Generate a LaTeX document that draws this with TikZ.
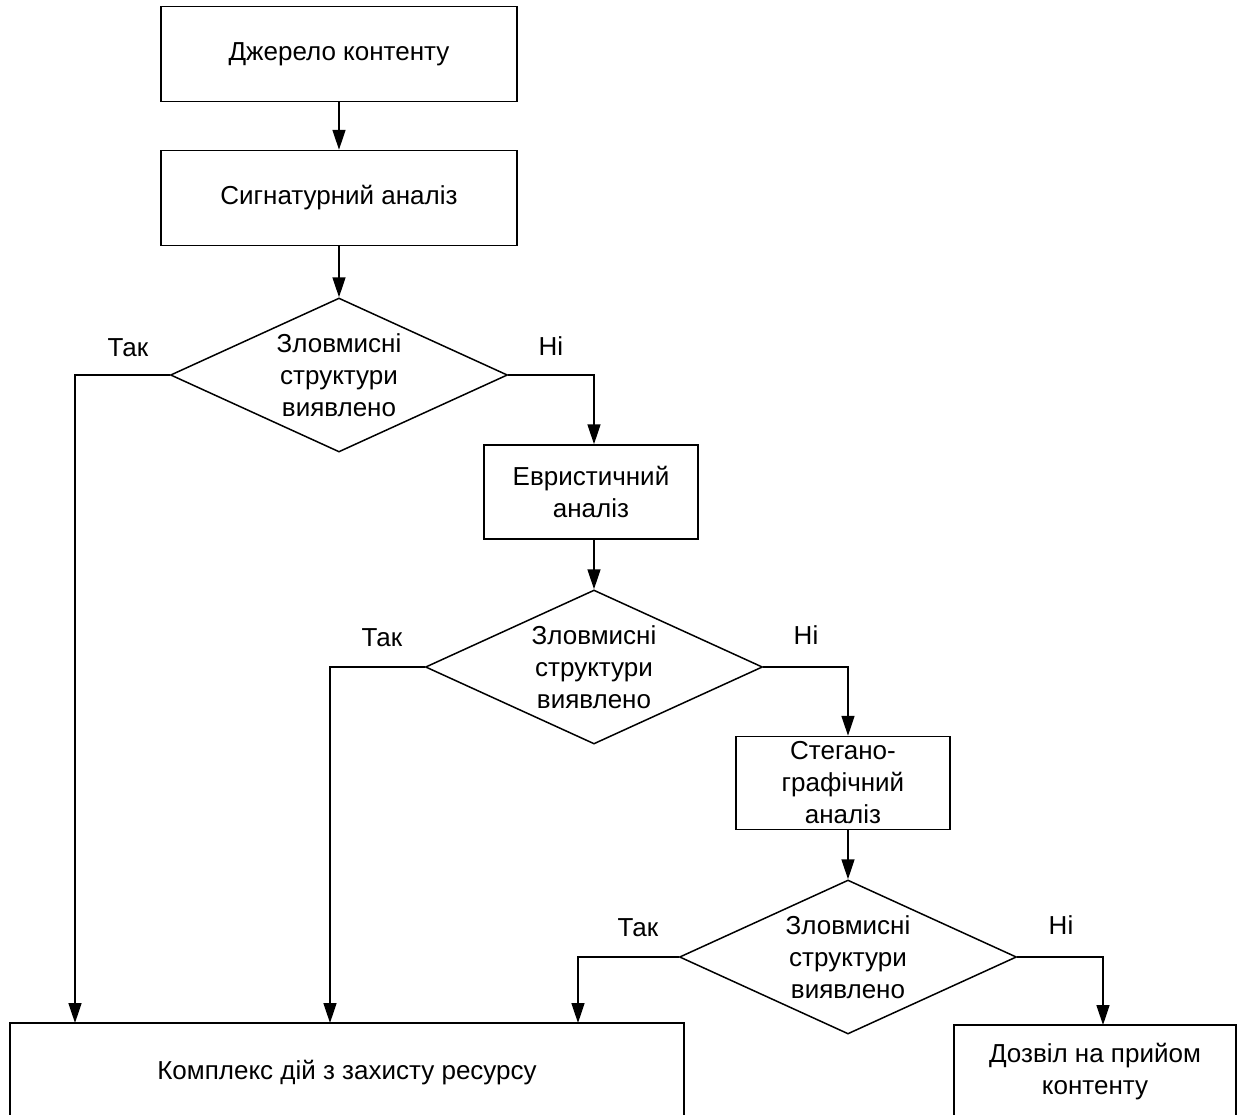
\documentclass[tikz,border=0pt]{standalone}
\usepackage{fontspec}
\setmainfont{Liberation Sans}
\usetikzlibrary{arrows.meta, shapes.geometric}

\tikzset{
  block/.style={draw, line width=0.75pt, align=center, inner sep=0pt},
  decision/.style={draw, diamond, line width=0.75pt, align=center, inner sep=0pt,
    aspect=2.19, minimum width=168.5pt, minimum height=77pt},
  flow/.style={line width=0.75pt, -{Triangle[length=10pt, width=6.5pt]}},
  lbl/.style={inner sep=0pt}
}

\begin{document}
\begin{tikzpicture}[x=0.5pt, y=-0.5pt,
    every node/.style={font=\fontsize{13pt}{16pt}\selectfont}]
  \useasboundingbox (0,0) rectangle (1244,1115);
  \clip (0,0) rectangle (1244,1115);

  % blocks and decisions
  \node[block, minimum width=178pt, minimum height=47.5pt] (src) at (339,54) {Джерело контенту};
  \node[block, minimum width=178pt, minimum height=47.5pt] (sig) at (339,198) {Сигнатурний аналіз};
  \node[decision] (d1) at (339,375) {Зловмисні\\структури\\виявлено};
  \node[block, minimum width=107pt, minimum height=47pt] (heu) at (591,492) {Евристичний\\аналіз};
  \node[decision] (d2) at (594,667) {Зловмисні\\структури\\виявлено};
  \node[block, minimum width=107pt, minimum height=46.5pt] (steg) at (843,783) {Стегано-\\графічний\\аналіз};
  \node[decision] (d3) at (848,957) {Зловмисні\\структури\\виявлено};
  \node[block, minimum width=337pt, minimum height=50pt] (prot) at (347,1073) {Комплекс дій з захисту ресурсу};
  \node[block, minimum width=141pt, minimum height=47pt] (allow) at (1095,1072) {Дозвіл на прийом\\контенту};

  % entry points on the lower boxes
  \coordinate (p1) at (75,1023);
  \coordinate (p2) at (330,1023);
  \coordinate (p3) at (578,1023);
  \coordinate (p4) at (1103,1025);

  % connectors
  \draw[flow] (src.south) -- (sig.north);
  \draw[flow] (sig.south) -- (d1.north);
  \draw[flow] (d1.west) -| (p1);
  \draw[flow] (d1.east) -| ([xshift=1.5pt]heu.north);
  \draw[flow] ([xshift=1.5pt]heu.south) -- (d2.north);
  \draw[flow] (d2.west) -| (p2);
  \draw[flow] (d2.east) -| ([xshift=2.5pt]steg.north);
  \draw[flow] ([xshift=2.5pt]steg.south) -- (d3.north);
  \draw[flow] (d3.west) -| (p3);
  \draw[flow] (d3.east) -| (p4);

  % branch labels
  \node[lbl] (yes1) at (128,348) {Так};
  \node[lbl] (no1) at (551,346) {Ні};
  \node[lbl] (yes2) at (382,638) {Так};
  \node[lbl] (no2) at (806,635) {Ні};
  \node[lbl] (yes3) at (638,928) {Так};
  \node[lbl] (no3) at (1061,925) {Ні};
\end{tikzpicture}
\end{document}
